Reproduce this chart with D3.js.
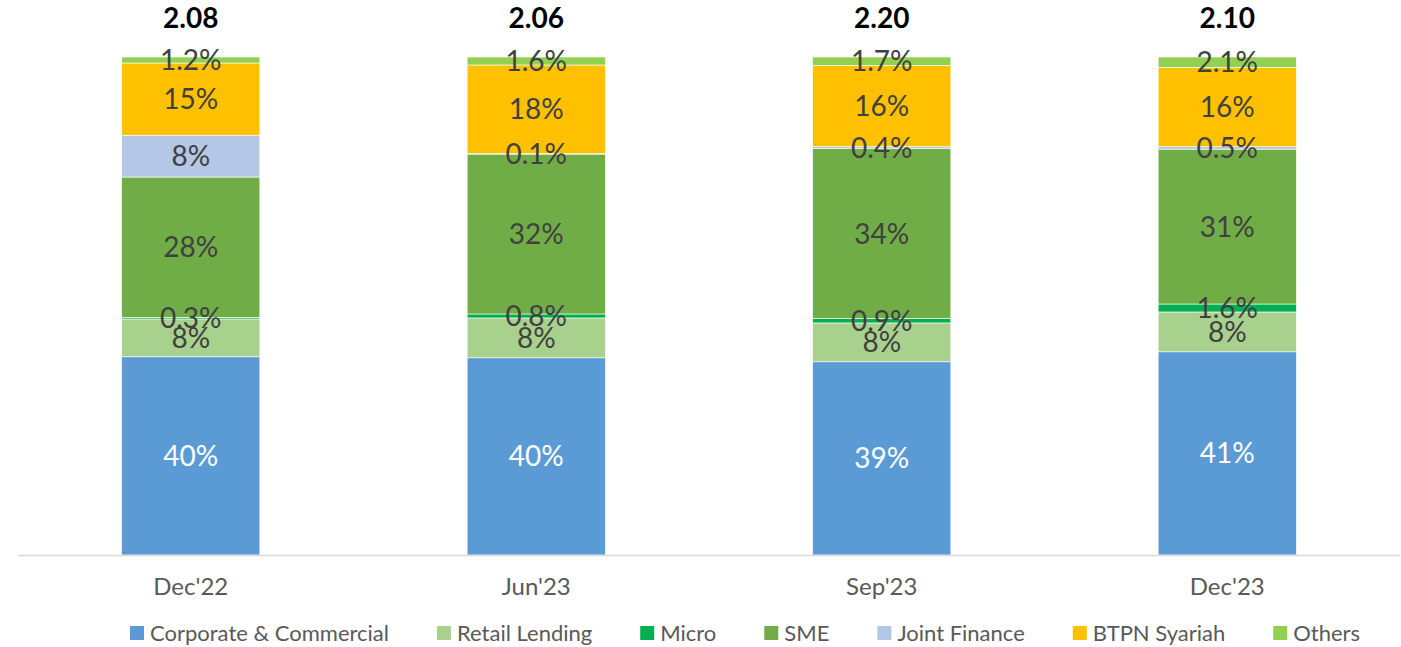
<!DOCTYPE html>
<html>
<head>
<meta charset="utf-8">
<script src="https://cdn.jsdelivr.net/npm/d3@7"></script>
<style>
  body { margin: 0; background: #fff; }
  text { font-family: Lato, "Open Sans", sans-serif; }
</style>
</head>
<body>
<div id="main"></div>
<script>
const categories = ["Dec'22", "Jun'23", "Sep'23", "Dec'23"]
const totals = ["2.08", "2.06", "2.20", "2.10"]
const seriesNames = ["Corporate & Commercial", "Retail Lending", "Micro", "SME", "Joint Finance", "BTPN Syariah", "Others"]
const corporate = [39.8, 39.6, 38.8, 40.8]
const retail = [7.6, 8.0, 7.8, 8.0]
const micro = [0.3, 0.8, 0.9, 1.6]
const sme = [28.2, 32.1, 34.1, 31.1]
const jointFinance = [8.4, 0.1, 0.4, 0.5]
const syariah = [14.5, 17.8, 16.3, 15.9]
const others = [1.2, 1.6, 1.7, 2.1]
const colors = ["#5B9BD5", "#A9D18E", "#00B050", "#70AD47", "#B4C7E7", "#FFC000", "#92D050"]

const allSeries = [corporate, retail, micro, sme, jointFinance, syariah, others]
const rows = categories.map((c, i) => {
  let r = {cat: c}
  seriesNames.forEach((s, j) => { r[s] = allSeries[j][i] })
  return r
})

const W = 1401, H = 647
let svg = d3.select('div#main').append('svg')
  .attr('width', W)
  .attr('height', H)

let x = d3.scaleBand()
  .domain(categories)
  .range([18, 1400])
  .paddingInner(0.6)
  .paddingOuter(0.3)

let y = d3.scaleLinear()
  .domain([0, 100])
  .range([555, 57])

let stack = d3.stack().keys(seriesNames)
let layers = stack(rows)

let fmt = v => v < 3 ? v.toFixed(1) + '%' : Math.round(v) + '%'

let groups = svg.selectAll('g.layer')
  .data(layers)
  .enter()
  .append('g')
    .attr('class', 'layer')
    .attr('fill', (d, i) => colors[i])

groups.selectAll('rect')
  .data(d => d)
  .enter()
  .append('rect')
    .attr('x', d => x(d.data.cat))
    .attr('y', d => y(d[1]))
    .attr('width', x.bandwidth())
    .attr('height', d => y(d[0]) - y(d[1]))
    .attr('stroke', '#fff')
    .attr('stroke-width', 0.6)

// axis line
svg.append('line')
  .attr('x1', 18).attr('x2', 1400)
  .attr('y1', y(0) + 0.5).attr('y2', y(0) + 0.5)
  .attr('stroke', '#D9D9D9')
  .attr('stroke-width', 1.5)

// segment labels
layers.forEach((layer, li) => {
  svg.append('g').selectAll('text')
    .data(layer)
    .enter()
    .append('text')
      .attr('x', d => x(d.data.cat) + x.bandwidth() / 2)
      .attr('y', d => (y(d[0]) + y(d[1])) / 2)
      .attr('dy', '0.36em')
      .attr('text-anchor', 'middle')
      .attr('font-size', 28)
      .attr('fill', li === 0 ? '#fff' : '#404040')
      .text(d => fmt(d.data[layer.key]))
})

// totals
svg.append('g').selectAll('text')
  .data(categories)
  .enter()
  .append('text')
    .attr('x', d => x(d) + x.bandwidth() / 2)
    .attr('y', 18)
    .attr('dy', '0.36em')
    .attr('text-anchor', 'middle')
    .attr('font-size', 28)
    .attr('font-weight', 'bold')
    .attr('fill', '#000')
    .text((d, i) => totals[i])

// category labels
let xAxis = d3.axisBottom(x).tickSize(0).tickPadding(0)
let ax = svg.append('g')
  .attr('transform', 'translate(0,578)')
  .call(xAxis)
ax.select('.domain').remove()
ax.selectAll('text')
  .attr('font-size', 24)
  .attr('font-family', 'Lato, "Open Sans", sans-serif')
  .attr('fill', '#595959')

// legend
let legend = svg.append('g').attr('transform', 'translate(0,633)')
let lx = 130
seriesNames.forEach((s, i) => {
  let item = legend.append('g').attr('transform', `translate(${lx},0)`)
  item.append('rect')
    .attr('x', 0).attr('y', -7)
    .attr('width', 14).attr('height', 14)
    .attr('fill', colors[i])
  let t = item.append('text')
    .attr('x', 20)
    .attr('dy', '0.36em')
    .attr('font-size', 22)
    .attr('fill', '#595959')
    .text(s)
  lx += 20 + t.node().getComputedTextLength() + 48
})
</script>
</body>
</html>
